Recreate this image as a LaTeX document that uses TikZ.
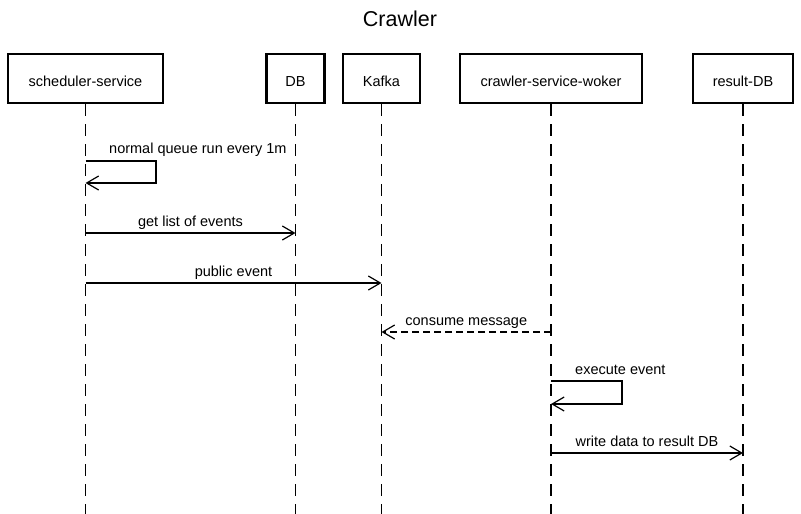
\documentclass[tikz,border=0pt]{standalone}
\usepackage{fontspec}
\setmainfont{Liberation Sans}
\usetikzlibrary{arrows.meta}
\tikzset{
  actor/.style={draw,line width=2.5pt,minimum height=49pt,inner sep=0pt,
    text height=16pt,text depth=0pt,font=\fontsize{14.5}{17}\selectfont},
  life/.style={line width=1.2pt,dash pattern=on 12pt off 8pt},
  msg/.style={line width=1.2pt,-{Straight Barb[length=12pt,width=14pt]}},
  lbl/.style={anchor=base,inner sep=0pt,font=\fontsize{14.5}{17}\selectfont}
}
\begin{document}
\begin{tikzpicture}[x=1pt,y=-1pt]
\useasboundingbox (0,0) rectangle (801,514);
\node[anchor=base,font=\fontsize{21.5}{25}\selectfont] (title) at (400,27) {Crawler};
% participants
\node[actor,minimum width=155pt] (sched) at (85.5,78.7) {scheduler-service};
\node[actor,minimum width=58pt] (db) at (295.5,78.7) {DB};
\node[actor,minimum width=77pt] (kafka) at (381.5,78.7) {Kafka};
\node[actor,minimum width=182pt] (crawler) at (551,78.7) {crawler-service-woker};
\node[actor,minimum width=100pt] (result) at (743,78.7) {result-DB};
% lifelines
\foreach \p in {sched,db,kafka,crawler,result}
  \draw[life] (\p.south) -- (\p |- 0,514);
% messages
\draw[msg] (sched |- 0,161) -| (156,183) -- (sched |- 0,183);
\node[lbl,anchor=base west] (l1) at (109,153) {normal queue run every 1m};
\draw[msg] (sched |- 0,233) -- (db |- 0,233)
  node[lbl,midway,yshift=7pt] (l2) {get list of events};
\draw[msg] (sched |- 0,283) -- (kafka |- 0,283)
  node[lbl,midway,yshift=7pt] (l3) {public event};
\draw[msg,dash pattern=on 7pt off 4pt] (crawler |- 0,332) -- (kafka |- 0,332)
  node[lbl,midway,yshift=7pt] (l4) {consume message};
\draw[msg] (crawler |- 0,381) -| (622,404) -- (crawler |- 0,404);
\node[lbl,anchor=base west] (l5) at (575,374) {execute event};
\draw[msg] (crawler |- 0,453) -- (result |- 0,453)
  node[lbl,midway,yshift=7pt] (l6) {write data to result DB};
\end{tikzpicture}
\end{document}
